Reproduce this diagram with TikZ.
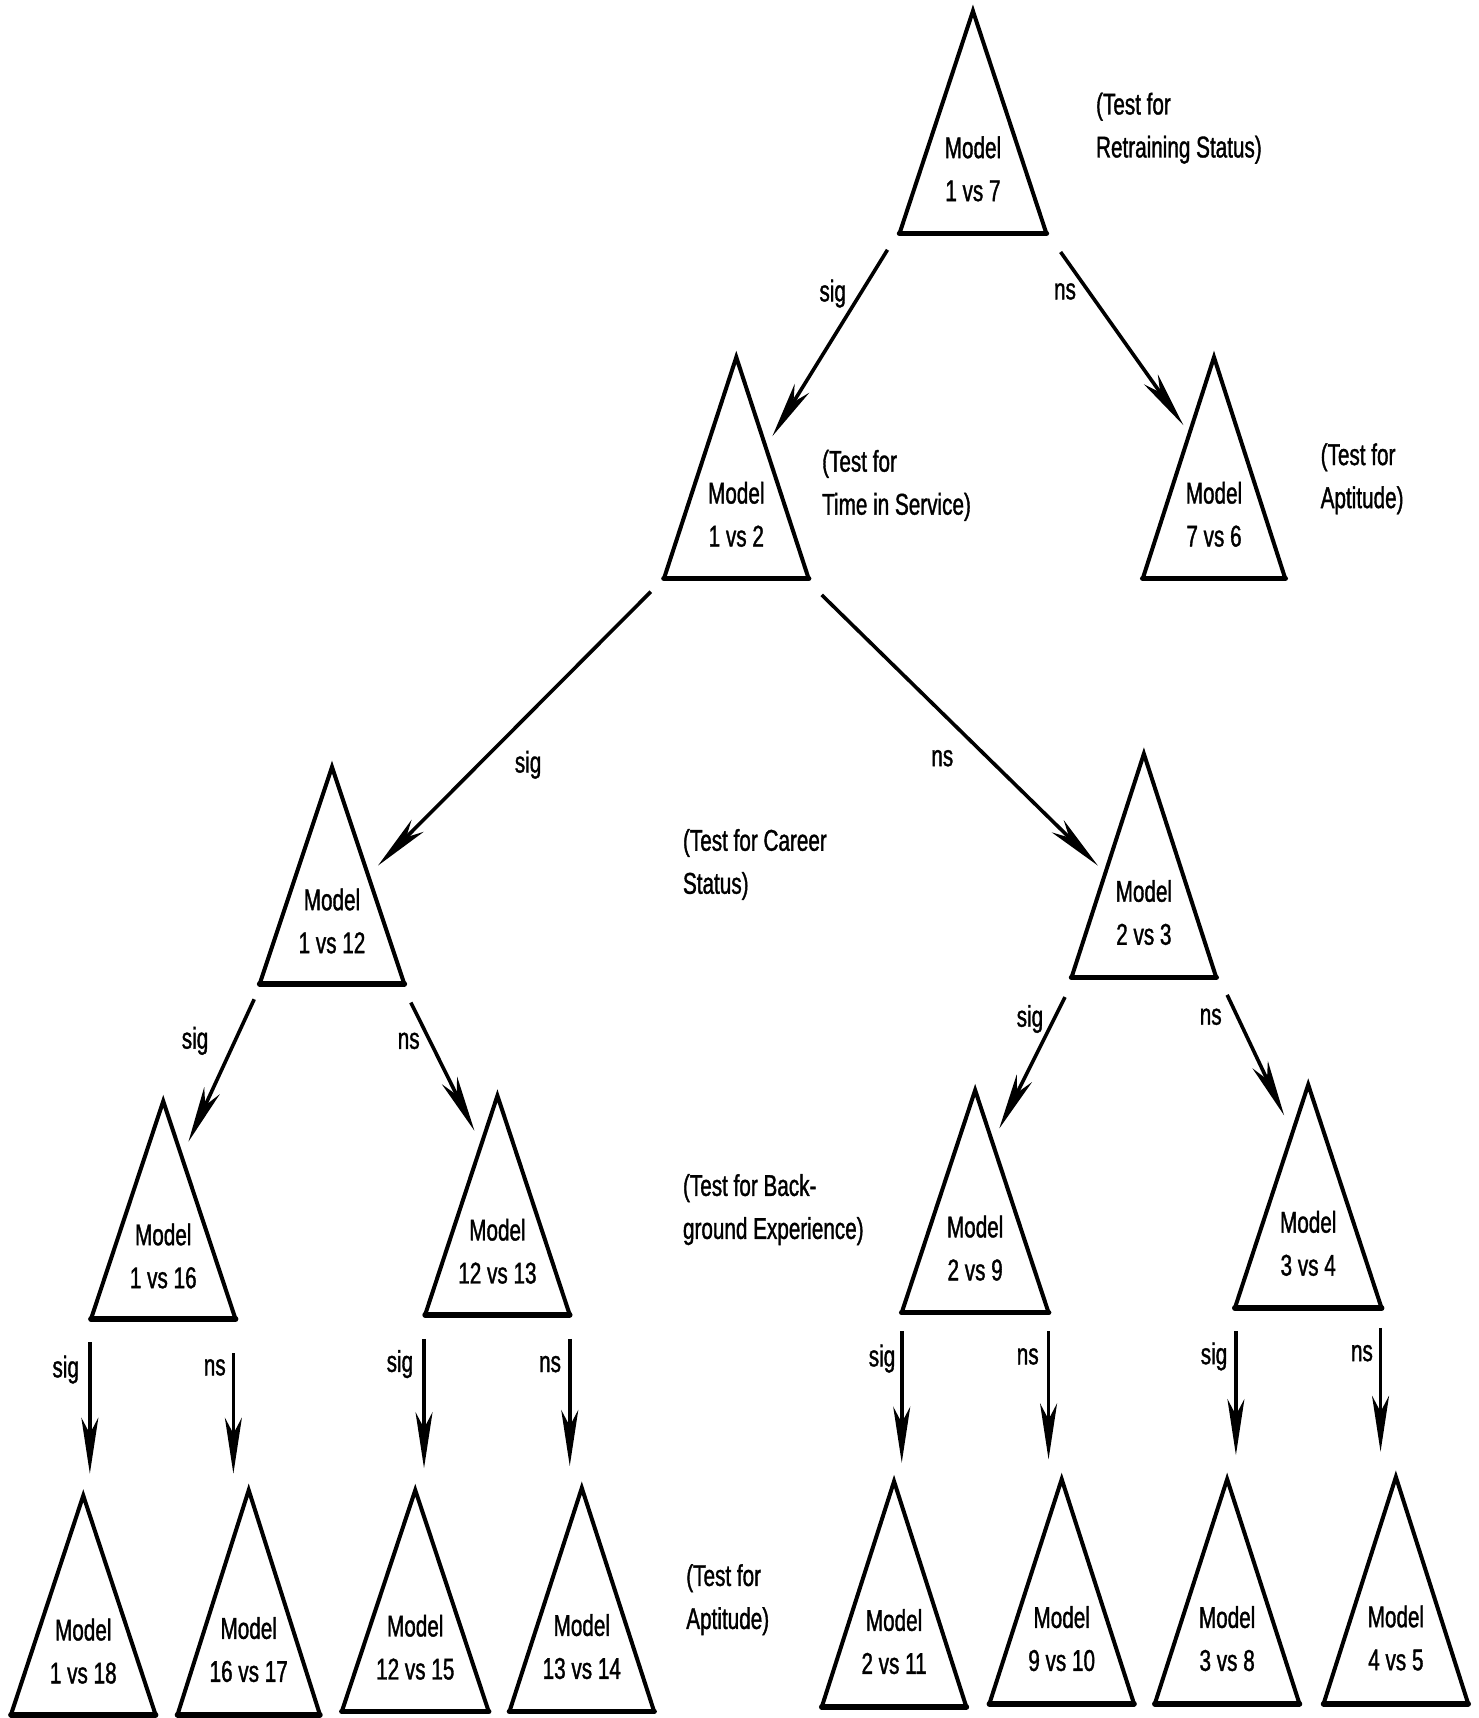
\documentclass[tikz,border=0pt]{standalone}
\usepackage{fontspec}
\setmainfont{Liberation Sans}[FakeStretch=0.69,FakeBold=1.2]
\usetikzlibrary{arrows.meta}
\newcommand\mytri[6]{%
  \coordinate (#1-a) at (#2,#3);
  \coordinate (#1-l) at (#2-#5,#4);
  \coordinate (#1-r) at (#2+#5,#4);
  \draw[trisides] (#1-l) -- (#1-a) -- (#1-r);
  \draw[tribase] (#1-l) -- (#1-r);
  \node[lbl, align=center] (#1) at (#2, {#3+0.71*(#4-#3)}) {Model\\#6};
}
\begin{document}
\begin{tikzpicture}[x=0.5478pt,y=-0.5478pt,
  trisides/.style={line width=2pt, line join=miter, line cap=round},
  tribase/.style={line width=2.8pt, line cap=round},
  lbl/.style={font=\fontsize{15}{21.5}\selectfont, inner sep=0pt},
  ann/.style={font=\fontsize{15}{21.5}\selectfont, inner sep=0pt, align=left, anchor=west},
  arr/.style={line width=1.8pt, -{Stealth[length=28pt,width=8.5pt,inset=8pt]}}]
\useasboundingbox (0,0) rectangle (1349,1568);

% triangles
\mytri{t17}{888}{10}{213}{67}{1 vs 7}
\mytri{t12}{672}{326}{528}{66}{1 vs 2}
\mytri{t76}{1108}{326}{528}{65}{7 vs 6}
\mytri{t112}{303}{700}{898}{66}{1 vs 12}
\mytri{t23}{1044}{688}{892}{66}{2 vs 3}
\mytri{t116}{149}{1005}{1204}{66}{1 vs 16}
\mytri{t1213}{454}{1000}{1200}{66}{12 vs 13}
\mytri{t29}{890}{995}{1198}{67}{2 vs 9}
\mytri{t34}{1194}{990}{1194}{67}{3 vs 4}
\mytri{b1}{76}{1365}{1565}{66}{1 vs 18}
\mytri{b2}{227}{1360}{1565}{65}{16 vs 17}
\mytri{b3}{379}{1360}{1562}{67}{12 vs 15}
\mytri{b4}{531}{1358}{1562}{66}{13 vs 14}
\mytri{b5}{816}{1352}{1558}{66}{2 vs 11}
\mytri{b6}{969}{1350}{1555}{66}{9 vs 10}
\mytri{b7}{1120}{1350}{1555}{66}{3 vs 8}
\mytri{b8}{1274}{1348}{1555}{66}{4 vs 5}

% arrow end points
\coordinate (a1s) at (810,228);  \coordinate (a1e) at (705,398);
\coordinate (a2s) at (968,230);  \coordinate (a2e) at (1080,388);
\coordinate (a3s) at (594,540);  \coordinate (a3e) at (345,790);
\coordinate (a4s) at (750,543);  \coordinate (a4e) at (1002,790);
\coordinate (a5s) at (232,912);  \coordinate (a5e) at (172,1042);
\coordinate (a6s) at (375,915);  \coordinate (a6e) at (433,1032);
\coordinate (a7s) at (972,910);  \coordinate (a7e) at (912,1030);
\coordinate (a8s) at (1120,908); \coordinate (a8e) at (1172,1018);
\coordinate (a9s) at (82,1225);  \coordinate (a9e) at (82,1345);
\coordinate (a10s) at (213,1235); \coordinate (a10e) at (213,1345);
\coordinate (a11s) at (387,1222); \coordinate (a11e) at (387,1340);
\coordinate (a12s) at (520,1222); \coordinate (a12e) at (520,1338);
\coordinate (a13s) at (823,1215); \coordinate (a13e) at (823,1335);
\coordinate (a14s) at (957,1215); \coordinate (a14e) at (957,1332);
\coordinate (a15s) at (1128,1215); \coordinate (a15e) at (1128,1328);
\coordinate (a16s) at (1260,1212); \coordinate (a16e) at (1260,1325);

\foreach \i in {1,...,16} { \draw[arr] (a\i s) -- (a\i e); }

% arrow labels
\node[lbl] (l1) at (760,268) {sig};
\node[lbl] (l2) at (972,266) {ns};
\node[lbl] (l3) at (482,698) {sig};
\node[lbl] (l4) at (860,692) {ns};
\node[lbl] (l5) at (178,950) {sig};
\node[lbl] (l6) at (373,950) {ns};
\node[lbl] (l7) at (940,930) {sig};
\node[lbl] (l8) at (1105,928) {ns};
\node[lbl] (l9) at (60,1250) {sig};
\node[lbl] (l10) at (196,1248) {ns};
\node[lbl] (l11) at (365,1245) {sig};
\node[lbl] (l12) at (502,1245) {ns};
\node[lbl] (l13) at (805,1240) {sig};
\node[lbl] (l14) at (938,1238) {ns};
\node[lbl] (l15) at (1108,1238) {sig};
\node[lbl] (l16) at (1243,1235) {ns};

% annotations
\node[ann] (n1) at (1000,117) {(Test for\\Retraining Status)};
\node[ann] (n2) at (750,443) {(Test for\\Time in Service)};
\node[ann] (n3) at (1205,437) {(Test for\\Aptitude)};
\node[ann] (n4) at (623,789) {(Test for Career\\Status)};
\node[ann] (n5) at (623,1104) {(Test for Back-\\ground Experience)};
\node[ann] (n6) at (626,1460) {(Test for\\Aptitude)};
\end{tikzpicture}
\end{document}
